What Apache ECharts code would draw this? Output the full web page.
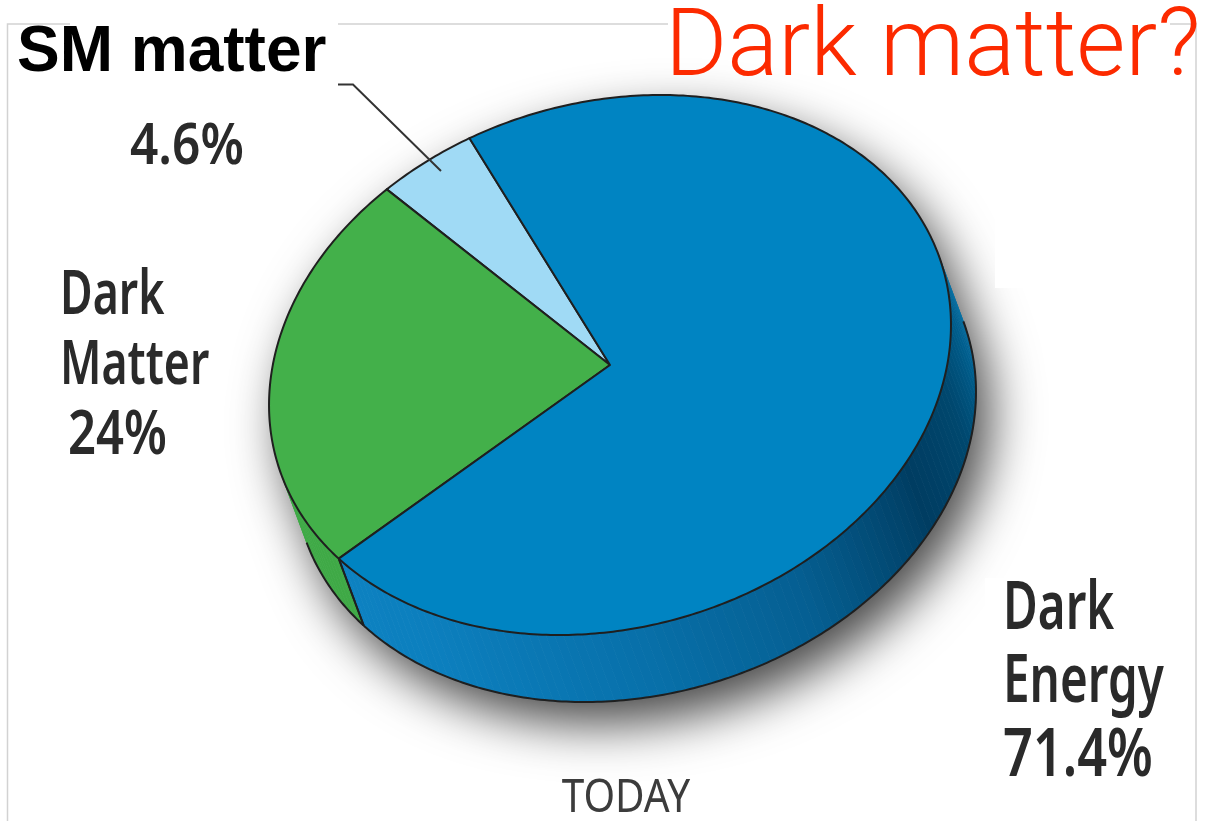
<!DOCTYPE html>
<html>
<head>
<meta charset="utf-8">
<script src="https://cdn.jsdelivr.net/npm/echarts@6/dist/echarts.min.js"></script>
<style>
  html, body { margin: 0; padding: 0; background: #ffffff; }
  #chart { width: 1217px; height: 821px; }
</style>
</head>
<body>
<div id="chart"></div>
<script>
// Composition of the universe today, in percent
const categories = ['SM matter', 'Dark Matter', 'Dark Energy'];
const shares = [4.6, 24, 71.4];
const unit = '%';
const headline = 'Dark matter?';
const epoch = 'TODAY';

// Colours of the top faces and of the rim
const faceColors = ['#a0daf5', '#43b04a', '#0084c2'];
const rimGreen = '#3fa946';
const rimBlueStops = [
  [183, '#0e84c4'], [225, '#0c7fbe'], [260, '#0871ab'], [290, '#055f92'],
  [318, '#003d62'], [335, '#00476e'], [350, '#005d8c'], [364, '#0a72a5']
];
const outline = '#1f1f1f';

// Tilted disc: projected centre, semi-axes, tilt of the major axis, thickness vector
const disc = { cx: 610, cy: 365, a: 346.7, b: 262.6, tilt: 16.1, dx: 25, dy: 67, start: 102 };

// Label placement (left x and cap-centre y of each line), condensed via scaleX
const labelFont = '"Noto Sans", "Open Sans", "Liberation Sans", sans-serif';
const labelLayout = [
  { xs: [130], ys: [148], size: 57, squeeze: [0.87], nameInLabel: false },
  { xs: [60, 60, 68], ys: [296, 366, 436], size: 62, squeeze: [0.72, 0.72, 0.79], nameInLabel: true },
  { xs: [1003, 1003, 1003], ys: [610, 683, 757], size: 67, squeeze: [0.71, 0.71, 0.78], nameInLabel: true }
];
const callout = { x: 17, y: 53, size: 64, path: [[338, 84.5], [353, 84.5], [441, 171]] };

const D2R = Math.PI / 180;
const phi = disc.tilt * D2R;
const Ax = disc.a * Math.cos(phi), Ay = -disc.a * Math.sin(phi);
const Bx = -disc.b * Math.sin(phi), By = -disc.b * Math.cos(phi);

function rim(tDeg, lower) {
  const t = tDeg * D2R;
  return [
    disc.cx + Math.cos(t) * Ax + Math.sin(t) * Bx + (lower ? disc.dx : 0),
    disc.cy + Math.cos(t) * Ay + Math.sin(t) * By + (lower ? disc.dy : 0)
  ];
}
function arc(t0, t1, lower) {
  const n = Math.max(2, Math.ceil(Math.abs(t1 - t0) / 0.75));
  const pts = [];
  for (let k = 0; k <= n; k++) pts.push(rim(t0 + (t1 - t0) * k / n, lower));
  return pts;
}

// Range of disc angles whose rim faces the viewer
const k1 = Ax * disc.dy - Ay * disc.dx;
const k2 = Bx * disc.dy - By * disc.dx;
const psi = Math.atan2(-k1, k2) / D2R;
const sideStart = (((psi - 90) % 360) + 360) % 360;
const sideEnd = sideStart + 180;

// Slice angles from the shares
const total = shares.reduce((s, v) => s + v, 0);
const sliceAngles = [];
{
  let acc = disc.start;
  shares.forEach(v => {
    const span = v / total * 360;
    sliceAngles.push([acc, acc + span]);
    acc += span;
  });
}

function hexToRgb(h) {
  return [parseInt(h.slice(1, 3), 16), parseInt(h.slice(3, 5), 16), parseInt(h.slice(5, 7), 16)];
}
function blueRim(t) {
  while (t < sideStart) t += 360;
  const s = rimBlueStops;
  if (t <= s[0][0]) return s[0][1];
  for (let i = 1; i < s.length; i++) {
    if (t <= s[i][0]) {
      const f = (t - s[i - 1][0]) / (s[i][0] - s[i - 1][0]);
      const c0 = hexToRgb(s[i - 1][1]), c1 = hexToRgb(s[i][1]);
      const c = c0.map((v, j) => Math.round(v + (c1[j] - v) * f));
      return 'rgb(' + c.join(',') + ')';
    }
  }
  return s[s.length - 1][1];
}
function rimColor(i, t) {
  if (i === 2) return blueRim(t);
  if (i === 1) return rimGreen;
  return faceColors[0];
}

function visibleParts(s, e) {
  const parts = [];
  for (let k = -1; k <= 1; k++) {
    const lo = Math.max(s, sideStart + 360 * k);
    const hi = Math.min(e, sideEnd + 360 * k);
    if (hi - lo > 0.01) parts.push([lo, hi]);
  }
  return parts;
}

function renderSlice(params, api) {
  const i = params.dataIndex;
  const [s, e] = sliceAngles[i];
  const children = [];

  // rim of the slice, shaded strip by strip
  visibleParts(s, e).forEach(([p, q]) => {
    const n = Math.max(1, Math.ceil((q - p) / 1.5));
    for (let k = 0; k < n; k++) {
      const u = p + (q - p) * k / n, v = p + (q - p) * (k + 1) / n;
      const col = rimColor(i, (u + v) / 2);
      children.push({
        type: 'polygon', z2: 1,
        shape: { points: [rim(u), rim(v), rim(v, true), rim(u, true)] },
        style: { fill: col, stroke: col, lineWidth: 0.8 }
      });
    }
    children.push({
      type: 'polyline', z2: 8,
      shape: { points: arc(p, q, true) },
      style: { fill: null, stroke: outline, lineWidth: 2 }
    });
    [s, e].forEach(b => {
      for (let k = -1; k <= 1; k++) {
        const bb = b + 360 * k;
        if (bb > sideStart + 0.5 && bb < sideEnd - 0.5) {
          children.push({
            type: 'line', z2: 8,
            shape: { x1: rim(bb)[0], y1: rim(bb)[1], x2: rim(bb, true)[0], y2: rim(bb, true)[1] },
            style: { stroke: outline, lineWidth: 1.8 }
          });
        }
      }
    });
  });

  // top face
  children.push({
    type: 'polygon', z2: 5,
    shape: { points: [[disc.cx, disc.cy]].concat(arc(s, e, false)) },
    style: { fill: faceColors[i], stroke: outline, lineWidth: 2, lineJoin: 'round' }
  });

  // label
  const lay = labelLayout[i];
  const lines = (lay.nameInLabel ? categories[i].split(' ') : []).concat([api.value(0) + unit]);
  lines.forEach((txt, j) => {
    children.push({
      type: 'text', z2: 20,
      x: lay.xs[j], y: lay.ys[j], scaleX: lay.squeeze[j],
      style: {
        text: txt, x: 0, y: 0,
        font: '600 ' + lay.size + 'px ' + labelFont,
        fill: '#2a2a2a', align: 'left', verticalAlign: 'middle'
      }
    });
  });
  if (!lay.nameInLabel) {
    children.push({
      type: 'text', z2: 20,
      style: {
        text: categories[i], x: callout.x, y: callout.y,
        font: 'bold ' + callout.size + 'px "Liberation Sans", Arial, sans-serif',
        fill: '#000000', align: 'left', verticalAlign: 'middle'
      }
    });
    children.push({
      type: 'polyline', z2: 20,
      shape: { points: callout.path },
      style: { fill: null, stroke: '#333333', lineWidth: 2 }
    });
  }
  return { type: 'group', children };
}

function renderShadow() {
  const pts = arc(sideEnd - 360, sideStart, false).concat(arc(sideStart, sideEnd, true));
  return {
    type: 'polygon',
    shape: { points: pts },
    style: {
      fill: '#ffffff', shadowBlur: 50, shadowColor: 'rgba(0,0,0,0.72)',
      shadowOffsetX: 14, shadowOffsetY: 22
    }
  };
}

const frame = '#d2d2d2';
const chart = echarts.init(document.getElementById('chart'), null, { renderer: 'canvas' });
chart.setOption({
  backgroundColor: '#ffffff',
  animation: false,
  graphic: [
    { type: 'polyline', z: 0, shape: { points: [[7.5, 821], [7.5, 24], [70, 24]] }, style: { fill: null, stroke: frame, lineWidth: 1.5 }, silent: true },
    { type: 'polyline', z: 0, shape: { points: [[338, 24], [668, 24]] }, style: { fill: null, stroke: frame, lineWidth: 1.5 }, silent: true },
    { type: 'polyline', z: 0, shape: { points: [[1170, 24], [1196, 24], [1196, 821]] }, style: { fill: null, stroke: frame, lineWidth: 1.5 }, silent: true },
    { type: 'rect', z: 2, shape: { x: 995, y: 40, width: 195, height: 248 }, style: { fill: '#ffffff' }, silent: true },
    { type: 'rect', z: 2, shape: { x: 985, y: 578, width: 205, height: 217 }, style: { fill: '#ffffff' }, silent: true },
    {
      type: 'text', z: 5,
      style: { text: headline, x: 665, y: 51, font: '300 95px Roboto, "Liberation Sans", sans-serif', fill: '#fc2a00', align: 'left', verticalAlign: 'middle' }
    },
    {
      type: 'text', z: 5, x: 626, y: 799, scaleX: 0.9,
      style: { text: epoch, x: 0, y: 0, font: '45px ' + labelFont, fill: '#3c3c3c', align: 'center', verticalAlign: 'middle' }
    }
  ],
  series: [
    {
      type: 'custom', coordinateSystem: 'none', z: 1, silent: true,
      data: [0], renderItem: renderShadow
    },
    {
      type: 'custom', coordinateSystem: 'none', z: 3, silent: true,
      data: shares.map((v, i) => ({ name: categories[i], value: [v] })),
      renderItem: renderSlice
    }
  ]
});
</script>
</body>
</html>
